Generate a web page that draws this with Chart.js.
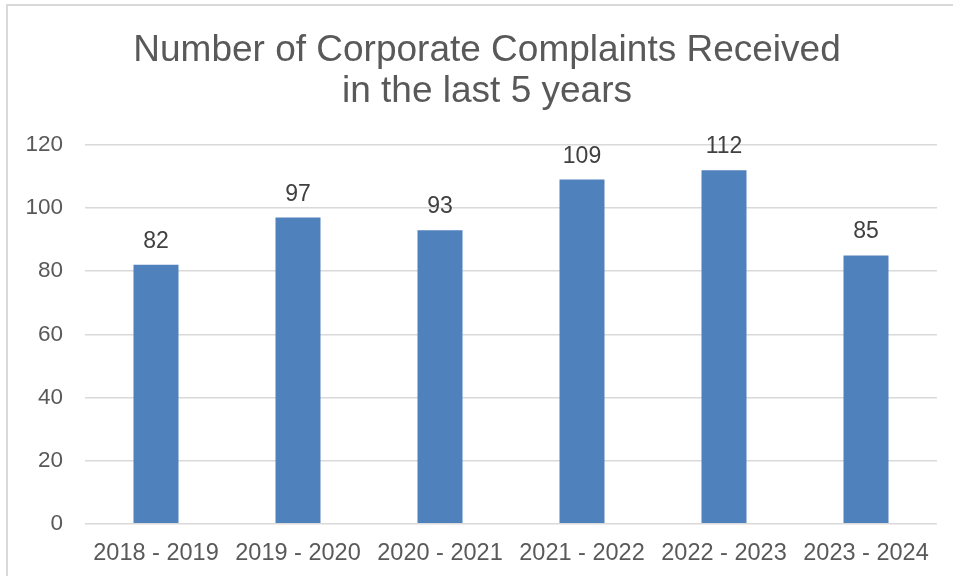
<!DOCTYPE html>
<html>
<head>
<meta charset="utf-8">
<script src="https://cdn.jsdelivr.net/npm/chart.js@4/dist/chart.umd.min.js"></script>
<style>
  html, body { margin: 0; padding: 0; background: #fff; overflow: hidden; }
  #frame { position: absolute; left: 6px; top: 4px; width: 1000px; height: 700px; border-left: 2px solid #d9d9d9; border-top: 2px solid #d9d9d9; }
  #wrap { position: absolute; left: 0; top: 0; width: 953px; height: 576px; overflow: hidden; }
</style>
</head>
<body>
<div id="frame"></div>
<div id="wrap"><canvas id="c" width="974" height="576"></canvas></div>
<script>
const categories = ["2018 - 2019", "2019 - 2020", "2020 - 2021", "2021 - 2022", "2022 - 2023", "2023 - 2024"];
const complaints = [82, 97, 93, 109, 112, 85];
const titleLines = ["Number of Corporate Complaints Received", "in the last 5 years"];
const yTicks = [0, 20, 40, 60, 80, 100, 120];

const FONT = "'Liberation Sans', Arial, sans-serif";

const valueLabels = {
  id: 'valueLabels',
  afterDatasetsDraw(chart) {
    const ctx = chart.ctx;
    const meta = chart.getDatasetMeta(0);
    ctx.save();
    ctx.font = "23px " + FONT;
    ctx.fillStyle = "#404040";
    ctx.textAlign = "center";
    ctx.textBaseline = "alphabetic";
    meta.data.forEach((bar, i) => {
      ctx.fillText(String(complaints[i]), bar.x, bar.y - 17);
    });
    ctx.restore();
  }
};

new Chart(document.getElementById('c'), {
  type: 'bar',
  data: {
    labels: categories,
    datasets: [{
      data: complaints,
      backgroundColor: '#4F81BD',
      borderWidth: 0,
      barPercentage: 0.317,
      categoryPercentage: 1.0
    }]
  },
  options: {
    responsive: false,
    animation: false,
    layout: { padding: { left: 0, right: 0, top: 0, bottom: 0 } },
    plugins: {
      legend: { display: false },
      tooltip: { enabled: false },
      title: {
        display: true,
        text: titleLines,
        color: '#595959',
        font: { family: FONT, size: 37, weight: 'normal', lineHeight: 1.12 },
        padding: { top: 30, bottom: 32 }
      }
    },
    scales: {
      x: {
        grid: { display: false },
        border: { display: false },
        ticks: { color: '#595959', font: { family: FONT, size: 23.5 }, padding: 8, maxRotation: 0, autoSkip: false }
      },
      y: {
        min: 0,
        max: 120,
        afterBuildTicks(scale) { scale.ticks = yTicks.map(v => ({ value: v })); },
        afterFit(scale) { scale.width = 85; },
        grid: { color: '#d9d9d9', lineWidth: 1.5, drawTicks: false },
        border: { display: false },
        ticks: { color: '#595959', font: { family: FONT, size: 22.5 }, padding: 22 }
      },
      spacer: {
        type: 'linear',
        position: 'right',
        afterFit(scale) { scale.width = 37; },
        grid: { display: false, drawOnChartArea: false },
        border: { display: false },
        ticks: { display: false }
      }
    }
  },
  plugins: [valueLabels]
});
</script>
</body>
</html>
